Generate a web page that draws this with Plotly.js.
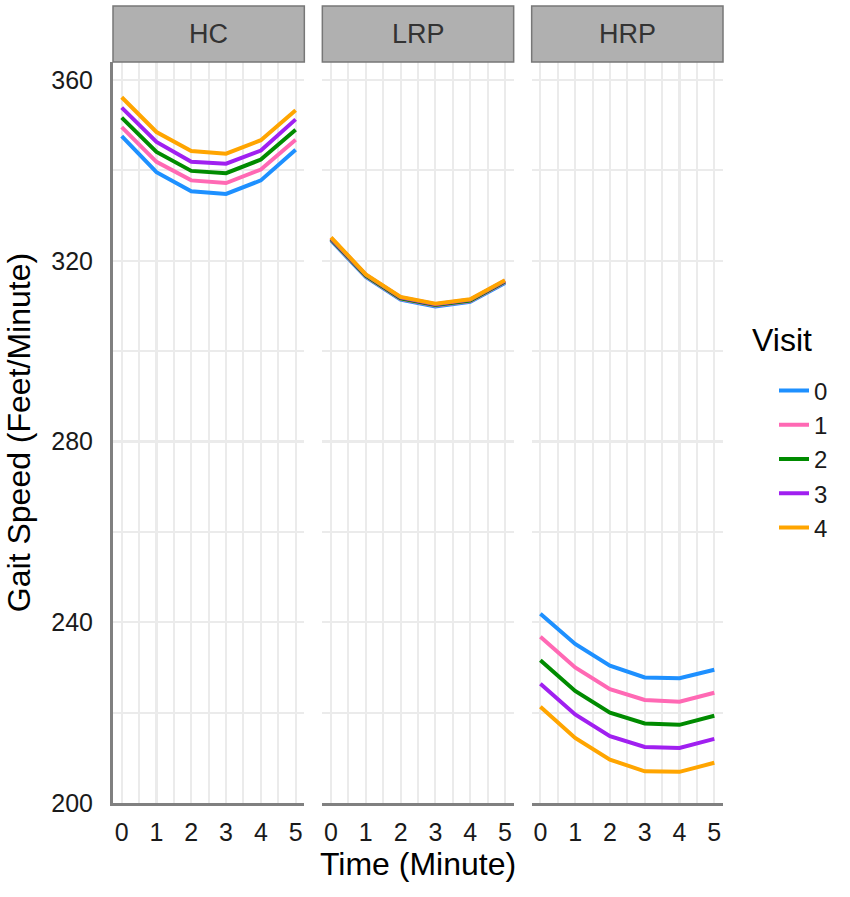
<!DOCTYPE html>
<html>
<head>
<meta charset="utf-8">
<script src="https://cdn.plot.ly/plotly-3.0.1.min.js"></script>
<style>
  html, body { margin: 0; padding: 0; background: #fff; }
  #chart { width: 850px; height: 897px; }
</style>
</head>
<body>
<div id="chart"></div>
<script>
// time points (minutes)
const minutes = [0, 1, 2, 3, 4, 5];
const groups = ['HC', 'LRP', 'HRP'];
const visits = ['0', '1', '2', '3', '4'];
const visitColors = ['#1E90FF', '#FF69B4', '#008B00', '#A020F0', '#FFA500'];

// gait speed per group, one row per visit
const hcSpeed = [
    [347.6, 339.6, 335.4, 334.8, 337.8, 344.6],
    [349.6, 341.9, 337.8, 337.2, 340.2, 346.8],
    [351.7, 344.1, 339.9, 339.4, 342.4, 349.0],
    [353.9, 346.3, 341.9, 341.5, 344.4, 351.3],
    [356.2, 348.5, 344.3, 343.7, 346.7, 353.3]
];
const lrpSpeed = [
    [324.5, 316.4, 311.4, 309.9, 310.9, 315.1],
    [324.7, 316.6, 311.6, 310.1, 311.1, 315.3],
    [324.8, 316.7, 311.7, 310.2, 311.2, 315.4],
    [325.0, 316.9, 311.9, 310.4, 311.4, 315.6],
    [325.2, 317.0, 312.0, 310.5, 311.5, 315.7]
];
const hrpSpeed = [
    [241.9, 235.2, 230.4, 227.8, 227.6, 229.5],
    [236.8, 230.0, 225.2, 222.8, 222.4, 224.4],
    [231.6, 224.8, 220.0, 217.6, 217.3, 219.3],
    [226.4, 219.6, 214.8, 212.4, 212.2, 214.2],
    [221.3, 214.4, 209.6, 207.0, 206.9, 208.9]
];
const speedByGroup = [hcSpeed, lrpSpeed, hrpSpeed];

const font = 'Liberation Sans, Arial, sans-serif';
const gridColor = '#EBEBEB';
const axisColor = '#808080';

const traces = [];
speedByGroup.forEach(function(rows, g) {
    rows.forEach(function(vals, v) {
        traces.push({
            x: minutes,
            y: vals,
            xaxis: g === 0 ? 'x' : 'x' + (g + 1),
            yaxis: 'y',
            type: 'scatter',
            mode: 'lines',
            name: visits[v],
            legendgroup: visits[v],
            showlegend: g === 0,
            line: { color: visitColors[v], width: 4 },
            hoverinfo: 'skip'
        });
    });
});

const gap = 18 / 610;
const w = (1 - 2 * gap) / 3;
const domains = [[0, w], [w + gap, 2 * w + gap], [2 * w + 2 * gap, 1]];

function xAxis(d, withTitle) {
    const ax = {
        domain: d,
        anchor: 'y',
        range: [-0.25, 5.25],
        tickvals: minutes,
        ticktext: minutes.map(String),
        showgrid: true,
        gridcolor: gridColor,
        gridwidth: 2.2,
        minor: { dtick: 0.5, tick0: 0, showgrid: true, gridcolor: gridColor, gridwidth: 2 },
        zeroline: false,
        showline: true,
        linecolor: axisColor,
        linewidth: 3,
        ticks: '',
        ticklabelstandoff: 5,
        tickfont: { family: font, size: 25, color: '#1a1a1a' },
        fixedrange: true
    };
    if (withTitle) {
        ax.title = { text: 'Time (Minute)', font: { family: font, size: 32, color: '#000' }, standoff: 8 };
    }
    return ax;
}

const shapes = [];
const annotations = [];
groups.forEach(function(name, g) {
    const xr = (g === 0 ? 'x' : 'x' + (g + 1)) + ' domain';
    shapes.push({
        type: 'rect', xref: xr, yref: 'paper',
        x0: 0, x1: 1, y0: 1.0, y1: 1 + 56 / 741,
        fillcolor: '#B0B0B0',
        line: { color: '#777777', width: 1.5 },
        layer: 'above'
    });
    annotations.push({
        text: name, xref: xr, yref: 'paper',
        x: 0.5, y: 1 + 28 / 741, xanchor: 'center', yanchor: 'middle',
        showarrow: false,
        font: { family: font, size: 27, color: '#333' }
    });
});
annotations.push({
    text: 'Visit', xref: 'paper', yref: 'paper',
    x: (750 - 113) / 610, y: (803 - 340) / 741, xanchor: 'left', yanchor: 'middle',
    showarrow: false,
    font: { family: font, size: 32, color: '#000' }
});

const layout = {
    width: 850,
    height: 897,
    margin: { l: 113, r: 127, t: 62, b: 94 },
    paper_bgcolor: '#fff',
    plot_bgcolor: '#fff',
    font: { family: font },
    xaxis: xAxis(domains[0], false),
    xaxis2: xAxis(domains[1], true),
    xaxis3: xAxis(domains[2], false),
    yaxis: {
        domain: [0, 1],
        anchor: 'x',
        range: [200, 364],
        tickvals: [200, 240, 280, 320, 360],
        showgrid: true,
        gridcolor: gridColor,
        gridwidth: 2.4,
        minor: { dtick: 20, tick0: 200, showgrid: true, gridcolor: gridColor, gridwidth: 2 },
        zeroline: false,
        showline: true,
        linecolor: axisColor,
        linewidth: 3,
        ticks: '',
        ticklabelstandoff: 12,
        tickfont: { family: font, size: 25, color: '#1a1a1a' },
        title: { text: 'Gait Speed (Feet/Minute)', font: { family: font, size: 32, color: '#000' }, standoff: 12 },
        fixedrange: true
    },
    showlegend: true,
    legend: {
        x: (774 - 113) / 610,
        y: (803 - 459) / 741,
        xanchor: 'left',
        yanchor: 'middle',
        font: { family: font, size: 24, color: '#1a1a1a' },
        bgcolor: 'rgba(0,0,0,0)',
        tracegroupgap: 0
    },
    shapes: shapes,
    annotations: annotations
};

Plotly.newPlot('chart', traces, layout, { displayModeBar: false, staticPlot: true });
</script>
</body>
</html>
